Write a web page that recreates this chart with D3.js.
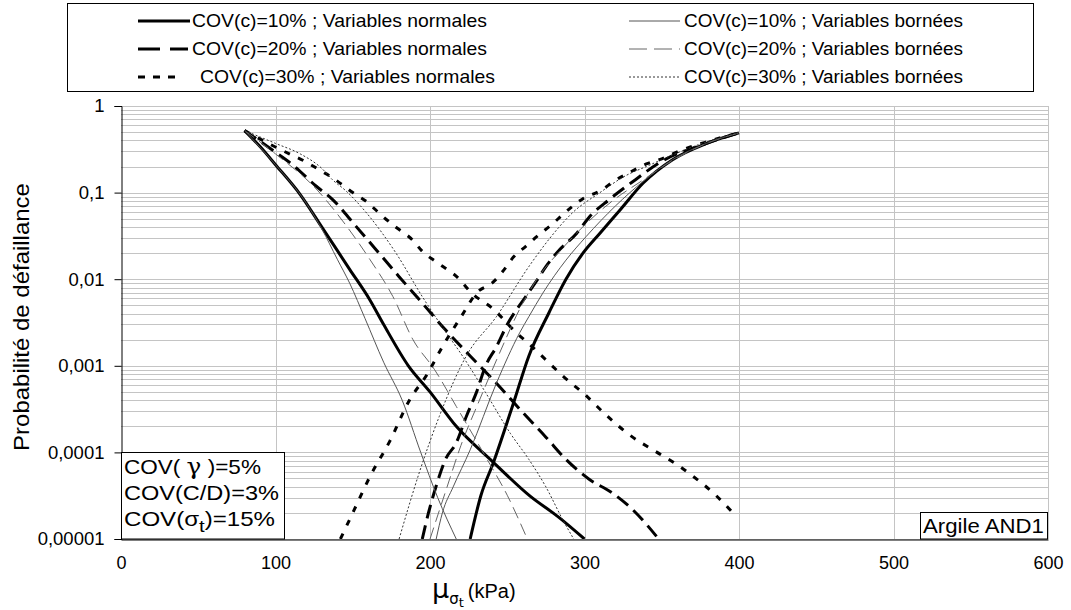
<!DOCTYPE html>
<html><head><meta charset="utf-8">
<script src="https://cdn.jsdelivr.net/npm/d3@7"></script>
<style>
body{margin:0;background:#fff}
svg{display:block}
text{font-family:"Liberation Sans",Arial,sans-serif;fill:#000}
</style>
</head><body>
<svg id="chart" width="1071" height="610"></svg>
<script>
// ---------------- DATA ----------------
const xTicks = [0, 100, 200, 300, 400, 500, 600];
const yTicks = [1, 0.1, 0.01, 0.001, 0.0001, 0.00001];
const yTickLabels = ["1", "0,1", "0,01", "0,001", "0,0001", "0,00001"];

const legendLabels = [
  "COV(c)=10% ; Variables normales",
  "COV(c)=20% ; Variables normales",
  "COV(c)=30% ; Variables normales",
  "COV(c)=10% ; Variables bornées",
  "COV(c)=20% ; Variables bornées",
  "COV(c)=30% ; Variables bornées"
];

// [mu (kPa), probability of failure] — decreasing branch
const n10Dec = [[80,0.52],[90,0.34],[100,0.21],[116,0.095],[130,0.04],[148,0.013],[161,0.0058],[170,0.003],[186,0.001],[200,0.0005],[217,0.0002],[240,0.00008],[265,0.000031],[283,0.000018],[300,0.00001]];
const n20Dec = [[80,0.52],[98,0.31],[111,0.21],[126,0.12],[137,0.083],[152,0.041],[167,0.02],[180,0.0107],[195,0.0053],[210,0.0026],[226,0.0013],[243,0.00063],[260,0.00029],[275,0.00015],[288,0.000083],[303,0.000049],[318,0.000034],[331,0.000022],[348,0.00001]];
const n30Dec = [[80,0.52],[98,0.35],[109,0.28],[119,0.23],[129,0.18],[137,0.148],[150,0.1],[160,0.076],[167,0.058],[177,0.041],[189,0.028],[195,0.021],[204,0.0158],[219,0.01],[226,0.0072],[241,0.0045],[256,0.0024],[264,0.0018],[279,0.001],[286,0.00076],[300,0.00047],[315,0.00026],[329,0.00016],[347,0.0001],[360,0.000072],[369,0.000055],[385,0.000032],[395,0.000021]];
const b10Dec = [[80,0.52],[100,0.21],[120,0.075],[130,0.038],[140,0.017],[148,0.009],[158,0.0035],[170,0.0011],[182,0.0004],[194,0.0001],[205,0.00003],[217,0.00001]];
const b20Dec = [[80,0.52],[100,0.28],[127,0.107],[146,0.041],[161,0.017],[176,0.0063],[189,0.002],[203,0.0009],[217,0.00034],[236,0.000089],[250,0.000032],[263,0.00001]];
const b30Dec = [[80,0.52],[100,0.37],[116,0.28],[130,0.19],[137,0.14],[145,0.107],[159,0.058],[178,0.02],[195,0.0063],[208,0.0028],[221,0.0013],[236,0.00049],[252,0.000166],[264,0.000083],[275,0.00004],[286,0.0000166],[293,0.00001]];

// increasing branch
const n10Inc = [[226,0.00001],[233,0.000032],[241,0.000076],[254,0.00037],[264,0.0013],[277,0.0041],[288,0.01],[299,0.02],[310,0.034],[323,0.063],[338,0.129],[357,0.24],[379,0.37],[400,0.49]];
const n20Inc = [[195,0.00001],[199,0.00002],[204,0.000041],[210,0.000083],[217,0.000129],[223.5,0.00026],[230,0.00049],[236,0.001],[243,0.00166],[250,0.003],[262,0.0063],[270,0.0102],[275,0.014],[284,0.022],[295,0.034],[303,0.052],[316,0.083],[333,0.141],[348,0.219],[379,0.37],[400,0.49]];
const n30Inc = [[142,0.00001],[150,0.00002],[161,0.000052],[174,0.000135],[187,0.00041],[198,0.00079],[208,0.00166],[221,0.0039],[230,0.0069],[241,0.0093],[248,0.0129],[254,0.018],[262,0.024],[270,0.032],[279,0.043],[287,0.058],[299,0.085],[311,0.107],[319,0.135],[330,0.174],[340,0.214],[350,0.245],[360,0.295],[380,0.39],[400,0.49]];
const b10Inc = [[204,0.00001],[208,0.00002],[215,0.00004],[226,0.000107],[243,0.00063],[258,0.0024],[264,0.0037],[273,0.0069],[288,0.0166],[301,0.031],[320,0.07],[338,0.135],[357,0.24],[379,0.37],[400,0.49]];
const b20Inc = [[200,0.00001],[210,0.000035],[220,0.00012],[232,0.0004],[245,0.0014],[258,0.0045],[270,0.0105],[285,0.022],[300,0.042],[318,0.08],[338,0.14],[357,0.235],[379,0.37],[400,0.49]];
const b30Inc = [[180,0.00001],[193,0.000058],[206,0.00026],[223.5,0.0013],[243,0.0037],[264,0.014],[279,0.032],[292,0.058],[310,0.1],[327,0.158],[340,0.2],[357,0.272],[378,0.38],[400,0.49]];

// ---------------- STYLES ----------------
const styles = [
  {stroke:"#000", w:3,   dash:null},      // N10
  {stroke:"#000", w:3,   dash:"14,7"},    // N20
  {stroke:"#000", w:3,   dash:"6,9"},     // N30
  {stroke:"#555", w:1,   dash:null},      // B10
  {stroke:"#666", w:1,   dash:"12,6"},    // B20
  {stroke:"#333", w:1,   dash:"2,2"}      // B30
];
const seriesSets = [
  [n10Dec, n10Inc], [n20Dec, n20Inc], [n30Dec, n30Inc],
  [b10Dec, b10Inc], [b20Dec, b20Inc], [b30Dec, b30Inc]
];

// helper: stretch a text horizontally to a target width (reference text is wide)
function fitX(sel, target) {
  const w = sel.node().getComputedTextLength();
  const x0 = +sel.attr("x") || 0;
  const k = target / w;
  const prev = sel.attr("transform") || "";
  sel.attr("transform", `${prev} translate(${x0},0) scale(${k},1) translate(${-x0},0)`);
}

// ---------------- LAYOUT ----------------
const svg = d3.select("#chart");
const L = 121, R = 1048, T = 106, B = 539;
const x = d3.scaleLinear().domain([0, 600]).range([L, R]);
const y = d3.scaleLog().domain([0.00001, 1]).range([B, T]);

// gridlines
const grid = svg.append("g");
const minorVals = [];
for (let e = -5; e < 0; e++) for (let k = 1; k <= 9; k++) minorVals.push(k * Math.pow(10, e));
minorVals.push(1);
grid.selectAll("line.h").data(minorVals).join("line")
  .attr("x1", L).attr("x2", R)
  .attr("y1", d => Math.round(y(d)) + 0.5).attr("y2", d => Math.round(y(d)) + 0.5)
  .attr("stroke", "#c4c4c4").attr("stroke-width", 1);
grid.selectAll("line.v").data(xTicks.slice(1)).join("line")
  .attr("y1", T).attr("y2", B)
  .attr("x1", d => Math.round(x(d)) + 0.5).attr("x2", d => Math.round(x(d)) + 0.5)
  .attr("stroke", "#c4c4c4").attr("stroke-width", 1);

// curves
svg.append("clipPath").attr("id", "clip").append("rect")
  .attr("x", L).attr("y", T - 2).attr("width", R - L).attr("height", B - T + 2);
const line = d3.line().x(d => x(d[0])).y(d => y(d[1])).curve(d3.curveMonotoneX);
const curves = svg.append("g").attr("clip-path", "url(#clip)");
seriesSets.forEach((set, i) => {
  const s = styles[i];
  set.forEach(data => {
    curves.append("path").attr("d", line(data))
      .attr("fill", "none").attr("stroke", s.stroke).attr("stroke-width", s.w)
      .attr("stroke-dasharray", s.dash).attr("stroke-linejoin", "round");
  });
});

// axes
const yAxis = d3.axisLeft(y).tickValues(yTicks).tickFormat((d, i) => yTickLabels[i]).tickSize(7).tickPadding(10);
const gy = svg.append("g").attr("transform", `translate(${L + 0.5},0)`).call(yAxis);
gy.select(".domain").attr("stroke", "#000");
gy.selectAll("text").attr("font-size", 18.5).attr("font-family", "'Liberation Sans',Arial,sans-serif");
const xAxis = d3.axisBottom(x).tickValues(xTicks).tickFormat(d => String(d)).tickSize(0).tickPadding(17);
const gx = svg.append("g").attr("transform", `translate(0,${B + 0.5})`).call(xAxis);
gx.select(".domain").attr("stroke", "#000");
gx.selectAll("text").attr("font-size", 18).attr("font-family", "'Liberation Sans',Arial,sans-serif");

// y title
const yt = svg.append("text").attr("transform", "translate(29,317) rotate(-90)")
  .attr("text-anchor", "middle").attr("font-size", 22).text("Probabilité de défaillance");
fitX(yt, 268);

// x title  μσt (kPa)
const xt = svg.append("text").attr("x", 432).attr("y", 598).attr("font-size", 20);
xt.append("tspan").attr("font-family", "'DejaVu Sans',sans-serif").attr("font-size", 27).text("μ");
xt.append("tspan").attr("font-family", "'DejaVu Sans',sans-serif").attr("font-size", 15).attr("dy", 6).text("σ");
xt.append("tspan").attr("font-family", "'DejaVu Sans',sans-serif").attr("font-size", 13).attr("dy", 3).text("t");
xt.append("tspan").attr("font-size", 20).attr("dy", -9).attr("dx", 4).text("(kPa)");

// legend
const lg = svg.append("g");
lg.append("rect").attr("x", 67.5).attr("y", 3.5).attr("width", 966).attr("height", 88)
  .attr("fill", "#fff").attr("stroke", "#000");
const rowsY = [21, 49, 77];
const legendGeom = [
  {x1:138, x2:190, tx:192, w:295},
  {x1:138, x2:188, tx:192, w:295},
  {x1:138, x2:178, tx:200, w:295},
  {x1:629, x2:680, tx:684, w:279},
  {x1:629, x2:680, tx:684, w:279},
  {x1:629, x2:680, tx:684, w:279}
];
legendLabels.forEach((lab, i) => {
  const s = styles[i], g = legendGeom[i], yy = rowsY[i % 3];
  const dash = i === 1 ? "22,10" : (i === 2 ? "7,8" : (i === 4 ? "18,7" : s.dash));
  lg.append("line").attr("x1", g.x1).attr("x2", g.x2).attr("y1", yy).attr("y2", yy)
    .attr("stroke", s.stroke).attr("stroke-width", s.w).attr("stroke-dasharray", dash);
  const t = lg.append("text").attr("x", g.tx).attr("y", yy + 6.5).attr("font-size", 18).text(lab);
  fitX(t, g.w);
});

// info box
const ib = svg.append("g");
ib.append("rect").attr("x", 121.5).attr("y", 452.5).attr("width", 163).attr("height", 86.5)
  .attr("fill", "#fff").attr("stroke", "#000");
const df = "'DejaVu Sans',sans-serif";
const t1 = ib.append("text").attr("x", 124).attr("y", 474).attr("font-family", df).attr("font-size", 20);
t1.append("tspan").text("COV( ");
t1.append("tspan").attr("font-family", "'DejaVu Serif',serif").attr("font-size", 22).text("γ");
t1.append("tspan").text(" )=5%");
fitX(t1, 137);
const t2 = ib.append("text").attr("x", 124).attr("y", 500).attr("font-family", df).attr("font-size", 20).text("COV(C/D)=3%");
fitX(t2, 155);
const t3 = ib.append("text").attr("x", 124).attr("y", 526).attr("font-family", df).attr("font-size", 20);
t3.append("tspan").text("COV(");
t3.append("tspan").text("σ");
t3.append("tspan").attr("font-size", 17).attr("dy", 6).text("t");
t3.append("tspan").attr("dy", -6).text(")=15%");
fitX(t3, 151);

// Argile box
const ab = svg.append("g");
ab.append("rect").attr("x", 920.5).attr("y", 512.5).attr("width", 127).attr("height", 26.5)
  .attr("fill", "#fff").attr("stroke", "#000");
const at = ab.append("text").attr("x", 923).attr("y", 533).attr("font-family", df).attr("font-size", 20).text("Argile AND1");
fitX(at, 121);
</script>
</body></html>
